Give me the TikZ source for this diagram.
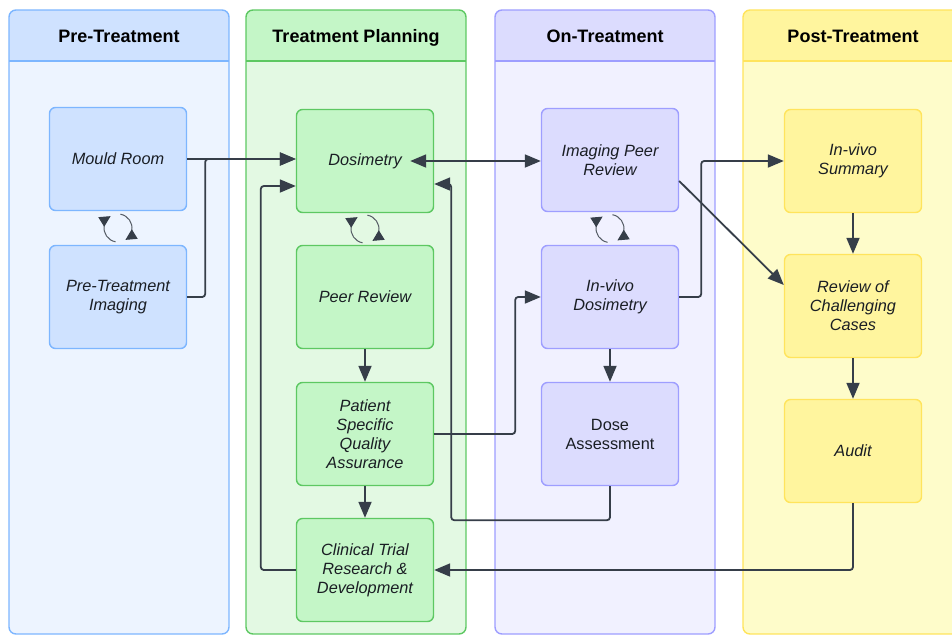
\documentclass[tikz,border=0pt]{standalone}
\usepackage{fontspec}
\setmainfont{Liberation Sans}
\usetikzlibrary{arrows.meta,calc}
\definecolor{preHead}{HTML}{CFE2FF}
\definecolor{preBody}{HTML}{EDF4FF}
\definecolor{preLine}{HTML}{7DB6FF}
\definecolor{tpHead}{HTML}{C4F6C7}
\definecolor{tpBody}{HTML}{E3F9E3}
\definecolor{tpLine}{HTML}{5DC862}
\definecolor{onHead}{HTML}{DCDCFE}
\definecolor{onBody}{HTML}{F1F1FF}
\definecolor{onLine}{HTML}{9E9EFF}
\definecolor{postHead}{HTML}{FFF59E}
\definecolor{postBody}{HTML}{FEFCCA}
\definecolor{postLine}{HTML}{FFE45C}
\definecolor{arrc}{HTML}{363E49}
\definecolor{txt}{HTML}{1A1E24}
\tikzset{
  box/.style={rectangle, rounded corners=6pt, minimum width=137pt, minimum height=103pt,
    line width=1.4pt, align=center, font=\itshape\fontsize{16.3}{19}\selectfont, text=txt, inner sep=2pt},
  prebox/.style={box, fill=preHead, draw=preLine},
  tpbox/.style={box, fill=tpHead, draw=tpLine},
  onbox/.style={box, fill=onHead, draw=onLine},
  postbox/.style={box, fill=postHead, draw=postLine},
  arr/.style={draw=arrc, line width=1.8pt, rounded corners=3pt, -{Triangle[length=16pt,width=13pt]}},
  arrb/.style={draw=arrc, line width=1.8pt, {Triangle[length=16pt,width=13pt]}-{Triangle[length=16pt,width=13pt]}},
  cyc/.style={draw=arrc!85, line width=1pt, -{Triangle[length=11pt,width=11pt,color=arrc,fill=arrc]}},
  headtxt/.style={font=\bfseries\fontsize{18}{20}\selectfont, text=black, anchor=base}
}
\newcommand\lanebox[7]{% name, x1, x2, head, body, line, title
  \begin{scope}
    \clip[rounded corners=7pt] (#2,10) rectangle (#3,634);
    \fill[#5] (#2,10) rectangle (#3,634);
    \fill[#4] (#2,10) rectangle (#3,61);
  \end{scope}
  \draw[#6, line width=1.4pt, rounded corners=7pt] (#2,10) rectangle (#3,634);
  \draw[#6, line width=1.4pt] (#2,61) -- (#3,61);
  \node[headtxt] (#1) at ({(#2+#3)/2},42) {#7};
}
\newcommand\cycarrows[1]{%
  \draw[cyc] ($(#1)+({14*cos(100)},{14*sin(100)})$) arc[start angle=100,end angle=238,radius=14];
  \draw[cyc] ($(#1)+({14*cos(-80)},{14*sin(-80)})$) arc[start angle=-80,end angle=58,radius=14];
}
\begin{document}
\begin{tikzpicture}[x=1pt,y=-1pt]
\clip (0,0) rectangle (952,635);
\fill[white] (0,0) rectangle (952,635);
% lanes
\lanebox{hpre}{9}{229}{preHead}{preBody}{preLine}{Pre-Treatment}
\lanebox{htp}{246}{466}{tpHead}{tpBody}{tpLine}{Treatment Planning}
\lanebox{hon}{495}{715}{onHead}{onBody}{onLine}{On-Treatment}
\lanebox{hpost}{743}{963}{postHead}{postBody}{postLine}{Post-Treatment}
% nodes
\node[prebox] (mould) at (118,159) {Mould Room};
\node[prebox] (pti) at (118,297) {Pre-Treatment\\Imaging};
\node[tpbox] (dos) at (365,161) {Dosimetry};
\node[tpbox] (peer) at (365,297) {Peer Review};
\node[tpbox] (psqa) at (365,434) {Patient\\Specific\\Quality\\Assurance};
\node[tpbox] (ctrd) at (365,570) {Clinical Trial\\Research \&\\Development};
\node[onbox] (ipr) at (610,160) {Imaging Peer\\Review};
\node[onbox] (ivd) at (610,297) {In-vivo\\Dosimetry};
\node[onbox, font=\fontsize{16.3}{19}\selectfont] (dose) at (610,434) {Dose\\Assessment};
\node[postbox] (ivs) at (853,161) {In-vivo\\Summary};
\node[postbox] (rcc) at (853,306) {Review of\\Challenging\\Cases};
\node[postbox] (audit) at (853,451) {Audit};
% cycle icons
\coordinate (c1) at ($(mould.south)!0.5!(pti.north)$);
\coordinate (c2) at ($(dos.south)!0.5!(peer.north)$);
\coordinate (c3) at ($(ipr.south)!0.5!(ivd.north)$);
\cycarrows{c1}
\cycarrows{c2}
\cycarrows{c3}
% connectors
\draw[arr] (mould.east) -- (mould.east -| dos.west);
\draw[arr] (pti.east) -- ++(18,0) |- ($(mould.east -| dos.west)$);
\draw[arr] (ctrd.west) -| ($(dos.west)+(-35,25)$) -- ($(dos.west)+(0,25)$);
\draw[arrb] ($(dos.east)+(-24,0)$) -- (dos.east -| ipr.west);
\draw[arr] (dose.south) -- ++(0,34) -| ($(dos.east)+(17,23)$) -- ($(dos.east)+(0,23)$);
\draw[arr] (peer.south) -- (psqa.north);
\draw[arr] (psqa.south) -- (ctrd.north);
\draw[arr] (psqa.east) -- ++(81,0) |- (ivd.west);
\draw[arr] (ivd.east) -- ++(22,0) |- (ivs.west);
\draw[arr] ($(ipr.east)+(0,21)$) -- ($(rcc.west)+(0,-21)$);
\draw[arr] (ivs.south) -- (rcc.north);
\draw[arr] (rcc.south) -- (audit.north);
\draw[arr] (ivd.south) -- (dose.north);
\draw[arr] (audit.south) |- (ctrd.east);
\end{tikzpicture}
\end{document}
